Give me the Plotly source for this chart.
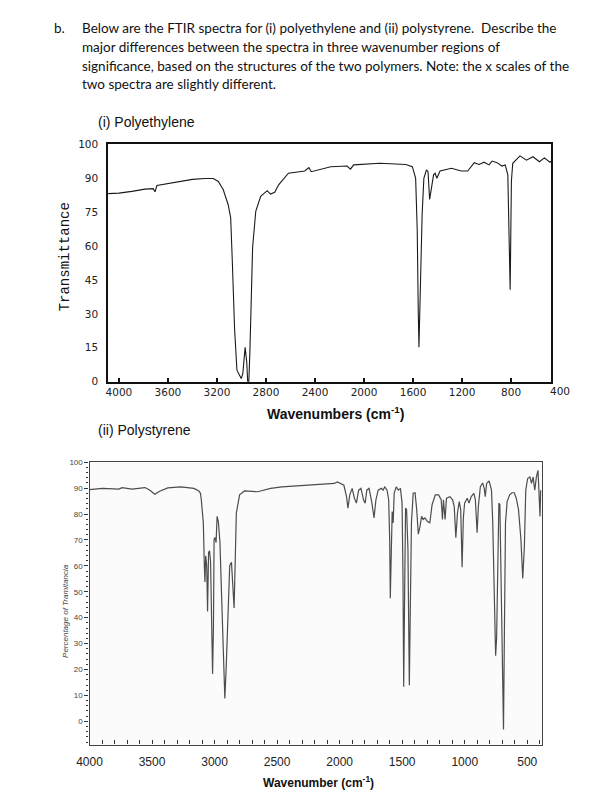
import plotly.graph_objects as go

W, H = 607, 803

# ---------------- data: (i) polyethylene ----------------
pe_wn = [4088, 4000, 3894, 3787, 3720, 3705, 3690, 3600, 3500, 3400, 3300, 3230,
         3189, 3149, 3109, 3088, 3074, 3056, 3037, 3025, 3002, 2989, 2970, 2957,
         2949, 2940, 2931, 2909, 2883, 2843, 2790, 2763, 2729, 2697, 2617, 2484,
         2450, 2431, 2351, 2271, 2138, 2111, 2085, 1872, 1659, 1606, 1579, 1566,
         1558, 1552, 1539, 1526, 1512, 1491, 1478, 1465, 1452, 1433, 1420, 1406,
         1380, 1287, 1207, 1154, 1101, 1061, 1021, 981, 955, 915, 875, 848, 827,
         819, 814, 808, 803, 798, 787, 728, 675, 622, 569, 529, 483, 474]
pe_t = [83.2, 83.4, 84.2, 85.2, 85.4, 84.0, 86.8, 87.6, 88.3, 89.5, 89.9, 89.9,
        88.6, 85.0, 78.4, 72.6, 52.3, 23.2, 5.1, 4.0, 1.4, 3.6, 15.2, 8.7,
        0.0, 0.0, 13.8, 59.5, 75.5, 82.0, 84.5, 83.0, 83.8, 87.1, 92.2, 93.2,
        94.7, 92.9, 94.1, 95.1, 95.4, 94.0, 95.9, 96.6, 96.1, 95.1, 90.0, 66.8,
        31.9, 15.2, 45.0, 74.1, 90.0, 93.7, 92.9, 80.6, 85.0, 91.5, 92.2, 90.0,
        93.2, 94.4, 93.2, 93.2, 96.9, 96.1, 97.1, 95.9, 97.6, 96.9, 95.4, 95.9, 91.5,
        66.8, 49.4, 40.7, 63.9, 88.6, 96.6, 99.9, 98.0, 99.5, 97.3, 99.0, 97.1, 97.5]

pe_x_ticks = [4000, 3600, 3200, 2800, 2400, 2000, 1600, 1200, 800]
pe_y_vals = [0, 15, 30, 45, 60, 75, 90, 105]
pe_y_text = ["0", "15", "30", "45", "60", "75", "90", "100"]

# ---------------- data: (ii) polystyrene ----------------
ps_wn = [4000, 3896, 3765, 3739, 3661, 3556, 3517, 3478, 3439, 3374, 3270, 3165,
         3126, 3113, 3106, 3095, 3090, 3082, 3077, 3071, 3063, 3056, 3048, 3040,
         3032, 3016, 3009, 3004, 2996, 2988, 2980, 2970, 2957, 2944, 2933, 2926,
         2918, 2907, 2899, 2891, 2879, 2865, 2852, 2844, 2834, 2826, 2800, 2761,
         2656, 2552, 2461, 2200, 2044, 2018, 1966, 1945, 1934, 1919, 1900, 1882,
         1866, 1848, 1830, 1809, 1796, 1783, 1765, 1744, 1725, 1710, 1692, 1666,
         1653, 1639, 1621, 1608, 1600, 1595, 1587, 1580, 1572, 1564, 1548, 1530,
         1514, 1501, 1494, 1488, 1480, 1473, 1465, 1454, 1443, 1435, 1426, 1412,
         1397, 1384, 1371, 1357, 1345, 1332, 1318, 1300, 1279, 1261, 1235, 1209,
         1188, 1178, 1170, 1157, 1146, 1118, 1097, 1084, 1071, 1058, 1044, 1032,
         1021, 1011, 1001, 980, 966, 948, 927, 915, 901, 891, 875, 857, 844, 836,
         825, 805, 786, 776, 766, 753, 745, 737, 727, 719, 708, 698, 690, 682,
         674, 661, 641, 622, 604, 588, 570, 551, 536, 523, 512, 497, 479, 466,
         453, 440, 427, 414, 406, 398, 393]
ps_t = [89.4, 89.9, 89.6, 90.2, 89.6, 90.2, 89.2, 87.6, 88.8, 90.1, 90.5, 89.9,
        88.9, 88.0, 85.4, 77.9, 76.6, 60.1, 53.8, 63.9, 60.1, 42.4, 65.2, 65.8,
        61.4, 18.3, 36.1, 70.3, 70.9, 69.0, 79.1, 77.2, 69.0, 48.7, 29.7, 14.5,
        8.8, 20.9, 31.0, 42.4, 60.1, 61.4, 46.2, 43.7, 63.9, 80.4, 87.4, 88.9,
        88.6, 89.9, 90.5, 91.4, 91.8, 92.4, 91.1, 86.7, 82.3, 87.4, 89.9, 86.1,
        84.2, 89.2, 89.9, 85.5, 84.2, 89.2, 89.9, 84.8, 78.5, 85.5, 89.2, 89.9,
        89.2, 90.5, 89.2, 85.5, 70.3, 47.5, 63.9, 81.0, 76.6, 88.0, 90.5, 89.2,
        89.9, 84.2, 57.6, 13.3, 51.3, 82.3, 81.7, 66.5, 13.9, 44.9, 76.6, 88.0,
        88.2, 81.7, 72.2, 75.3, 79.1, 77.9, 78.5, 77.2, 76.6, 83.6, 87.4, 87.4,
        85.5, 77.9, 85.5, 77.9, 86.1, 86.7, 85.5, 82.9, 70.9, 80.4, 84.8, 81.7,
        59.5, 78.5, 84.2, 86.1, 84.2, 86.7, 88.0, 85.5, 72.8, 82.9, 90.5, 92.0, 89.9, 86.7,
        91.8, 92.8, 89.2, 76.6, 51.3, 25.3, 32.3, 57.6, 84.2, 83.6, 51.3, 13.3, -3.2, 38.6,
        76.6, 84.8, 87.4, 88.2, 88.2, 86.1, 81.7, 70.3, 55.1, 67.7, 89.2, 93.7, 94.3, 91.8,
        94.3, 89.2, 94.3, 96.8, 85.5, 79.1, 89.2]

ps_x_ticks = [4000, 3500, 3000, 2500, 2000, 1500, 1000, 500]

question_lines = [
    "Below are the FTIR spectra for (i) polyethylene and (ii) polystyrene.  Describe the",
    "major differences between the spectra in three wavenumber regions of",
    "significance, based on the structures of the two polymers. Note: the x scales of the",
    "two spectra are slightly different.",
]


def pxx(x):
    return x / W


def pxy(y):
    return 1 - y / H


fig = go.Figure()
fig.add_trace(go.Scatter(x=pe_wn, y=pe_t, xaxis="x", yaxis="y", mode="lines",
                         line=dict(color="#1a1a1a", width=1.1), hoverinfo="skip"))
fig.add_trace(go.Scatter(x=ps_wn, y=ps_t, xaxis="x2", yaxis="y2", mode="lines",
                         line=dict(color="#4d4d4d", width=1.2), hoverinfo="skip"))

top_font = dict(family="DejaVu Sans", size=10.5, color="#222222")
fig.update_layout(
    width=W, height=H, margin=dict(l=0, r=0, t=0, b=0),
    paper_bgcolor="white", plot_bgcolor="white", showlegend=False,
    xaxis=dict(domain=[pxx(89), pxx(541.7)], range=[4088, 474], anchor="y",
               tickmode="array", tickvals=pe_x_ticks, ticks="inside", ticklen=4,
               tickwidth=2, tickcolor="#111", showline=True, mirror=True,
               linecolor="#111", linewidth=1.5, showgrid=False, zeroline=False,
               tickfont=top_font),
    yaxis=dict(domain=[pxy(373.3), pxy(132.3)], range=[0, 105], anchor="x",
               tickmode="array", tickvals=pe_y_vals, ticktext=pe_y_text, ticks="",
               showline=True, mirror=True, linecolor="#111", linewidth=1.5,
               showgrid=False, zeroline=False, tickfont=top_font,
               ticklabelstandoff=6),
    xaxis2=dict(domain=[pxx(70), pxx(532.3)], range=[4000, 383], anchor="y2",
                tick0=500, dtick=500, ticks="inside", ticklen=4, tickcolor="#333",
                minor=dict(dtick=100, tick0=0, ticks="inside", ticklen=4, tickcolor="#333"),
                showline=True, mirror=True, linecolor="#444", linewidth=1.3,
                showgrid=False, zeroline=False,
                tickfont=dict(family="Liberation Sans", size=12, color="#222"),
                ticklabelstandoff=6),
    yaxis2=dict(domain=[pxy(741.7), pxy(455)], range=[-9, 100], anchor="x2",
                tick0=0, dtick=10, ticks="outside", ticklen=4, tickcolor="#333",
                minor=dict(dtick=2, tick0=0, ticks="outside", ticklen=2, tickcolor="#333"),
                showline=True, mirror=True, linecolor="#444", linewidth=1.3,
                showgrid=False, zeroline=False,
                tickfont=dict(family="Liberation Sans", size=8, color="#444")),
)

# light background of the second plot
fig.add_shape(type="rect", xref="x2 domain", yref="y2 domain", x0=0, x1=1, y0=0, y1=1,
              fillcolor="#fbfbfb", line=dict(width=0), layer="below")

ann = []


def note(x, y, text, font, xanchor="left", angle=0):
    ann.append(dict(x=pxx(x), y=pxy(y), xref="paper", yref="paper", text=text,
                    showarrow=False, xanchor=xanchor, yanchor="middle",
                    textangle=angle, font=font))


qfont = dict(family="Lato", size=13.5, color="#111")
note(32, 14.5, "b.", qfont)
for i, line in enumerate(question_lines):
    note(60, 14.5 + 19 * i, line, qfont)

tfont = dict(family="Liberation Sans", size=14, color="#111")
note(77, 110, "(i) Polyethylene", tfont)
note(77, 422, "(ii) Polystyrene", tfont)
note(45, 247, "Transmittance", dict(family="Liberation Mono", size=14, color="#111"),
     xanchor="center", angle=-90)
note(321, 405, "<b>Wavenumbers (cm<sup>-1</sup>)</b>",
     dict(family="Liberation Sans", size=14, color="#111"), xanchor="center")
note(551, 383, "400", top_font, xanchor="center")
note(46, 606, "<i>Percentage of Tramitancia</i>",
     dict(family="Liberation Sans", size=8, color="#444"), xanchor="center", angle=-90)
note(304, 780, "<b>Wavenumber (cm<sup>-1</sup>)</b>",
     dict(family="Liberation Sans", size=12, color="#111"), xanchor="center")
fig.update_layout(annotations=ann)

fig.write_html("out.html")
